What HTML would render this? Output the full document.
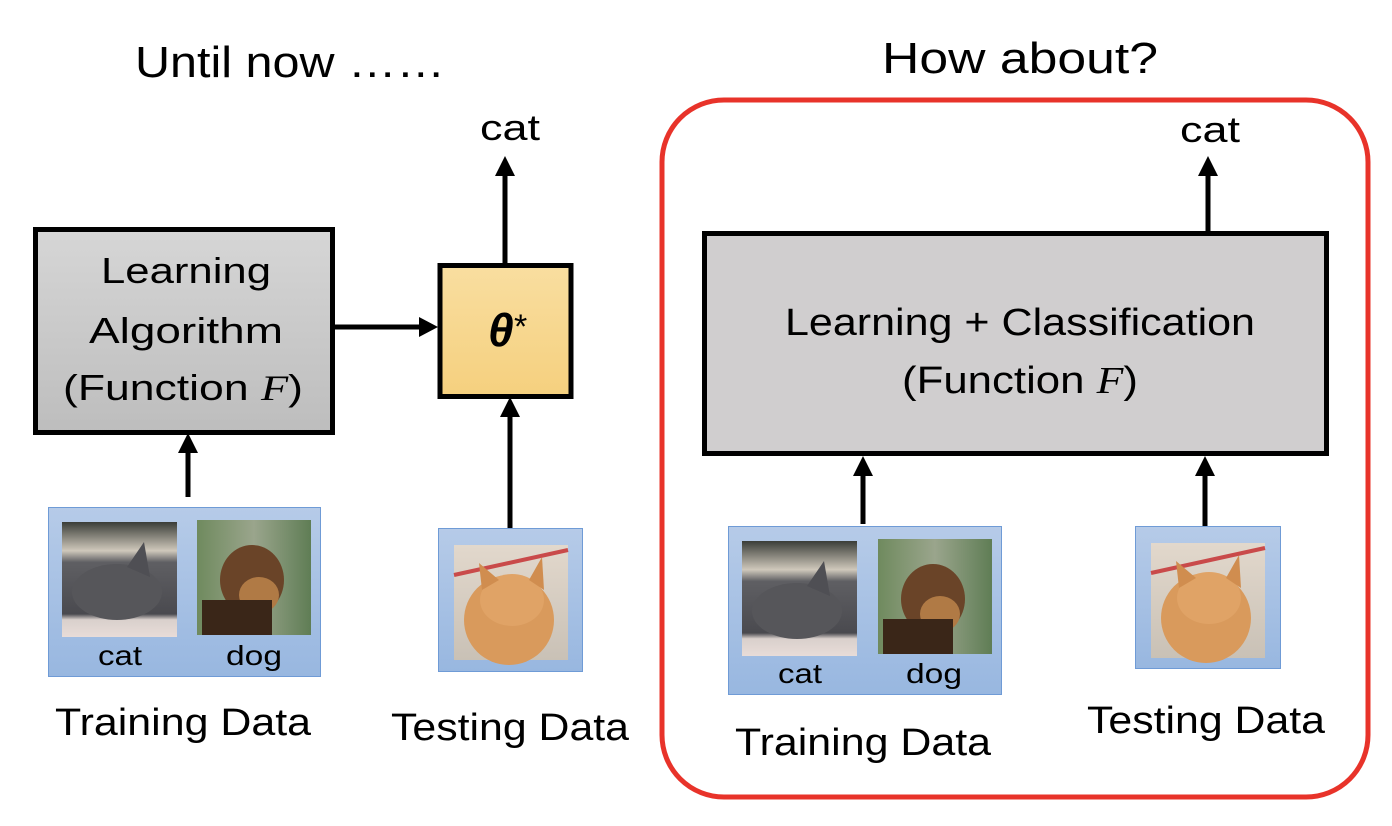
<!DOCTYPE html>
<html><head><meta charset="utf-8"><style>
html,body{margin:0;padding:0;background:#fff;}
svg{display:block;}
text{font-family:"Liberation Sans",sans-serif;fill:#000;}
</style></head><body>
<svg width="1392" height="826" viewBox="0 0 1392 826" xmlns="http://www.w3.org/2000/svg">
<defs>
<linearGradient id="gray" x1="0" y1="0" x2="0" y2="1"><stop offset="0" stop-color="#d6d6d6"/><stop offset="1" stop-color="#bdbdbd"/></linearGradient>
<linearGradient id="gold" x1="0" y1="0" x2="0" y2="1"><stop offset="0" stop-color="#f9dea0"/><stop offset="1" stop-color="#f5d07e"/></linearGradient>
<linearGradient id="blue" x1="0" y1="0" x2="0" y2="1"><stop offset="0" stop-color="#b6cbe8"/><stop offset="1" stop-color="#98b7e0"/></linearGradient>
<linearGradient id="catg" x1="0" y1="0" x2="0" y2="1"><stop offset="0" stop-color="#3a3d38"/><stop offset="0.25" stop-color="#cfc8bb"/><stop offset="0.35" stop-color="#5f5f63"/><stop offset="0.8" stop-color="#4a4a4f"/><stop offset="0.85" stop-color="#d9d0cc"/><stop offset="1" stop-color="#e8dcd8"/></linearGradient>
<linearGradient id="dogg" x1="0" y1="0" x2="1" y2="0"><stop offset="0" stop-color="#6f8a5e"/><stop offset="0.5" stop-color="#9aa58c"/><stop offset="1" stop-color="#5f7d55"/></linearGradient>
<linearGradient id="oc" x1="0" y1="0" x2="0" y2="1"><stop offset="0" stop-color="#e2d8cc"/><stop offset="1" stop-color="#c9c1b6"/></linearGradient>
<g id="catimg"><rect width="115" height="115" fill="url(#catg)"/><ellipse cx="55" cy="70" rx="45" ry="28" fill="#56565a"/><polygon points="65,45 82,20 88,55" fill="#4f4f54"/></g>
<g id="dogimg"><rect width="114" height="115" fill="url(#dogg)"/><ellipse cx="55" cy="60" rx="32" ry="35" fill="#6a4428"/><ellipse cx="62" cy="75" rx="20" ry="18" fill="#b07a45"/><rect x="5" y="80" width="70" height="35" fill="#3a2618"/></g>
<g id="ocat"><rect width="114" height="115" fill="url(#oc)"/><line x1="0" y1="30" x2="114" y2="5" stroke="#c94a4a" stroke-width="4"/><ellipse cx="55" cy="75" rx="45" ry="45" fill="#d99a5c"/><ellipse cx="58" cy="55" rx="32" ry="26" fill="#e0a366"/><polygon points="28,45 25,18 45,35" fill="#d08d4f"/><polygon points="75,35 88,12 90,45" fill="#d08d4f"/></g>
</defs>

<text x="290" y="77" font-size="44" text-anchor="middle" textLength="310" lengthAdjust="spacingAndGlyphs">Until now ……</text>
<text x="1020" y="73" font-size="44" text-anchor="middle" textLength="276" lengthAdjust="spacingAndGlyphs">How about?</text>

<rect x="35.5" y="229.5" width="297" height="203" fill="url(#gray)" stroke="#000" stroke-width="5"/>
<text x="186" y="283" font-size="36" text-anchor="middle" textLength="170" lengthAdjust="spacingAndGlyphs">Learning</text>
<text x="186" y="343" font-size="36" text-anchor="middle" textLength="194" lengthAdjust="spacingAndGlyphs">Algorithm</text>
<text x="183" y="400" font-size="36" text-anchor="middle" textLength="240" lengthAdjust="spacingAndGlyphs">(Function <tspan font-family="Liberation Serif" font-style="italic">F</tspan>)</text>

<rect x="440" y="265.5" width="131" height="131" fill="url(#gold)" stroke="#000" stroke-width="5"/>
<text x="488" y="346" font-size="46" font-family="Liberation Serif" font-weight="bold" font-style="italic">θ</text>
<text x="514" y="338" font-size="34">*</text>

<line x1="333" y1="327" x2="424" y2="327" stroke="#000" stroke-width="5"/>
<polygon points="438,327 419,317 419,337"/>
<line x1="188" y1="497" x2="188" y2="448" stroke="#000" stroke-width="5"/>
<polygon points="188,433 178,453 198,453"/>
<line x1="510" y1="528" x2="510" y2="412" stroke="#000" stroke-width="5"/>
<polygon points="510,397 500,417 520,417"/>
<line x1="505" y1="263" x2="505" y2="172" stroke="#000" stroke-width="5"/>
<polygon points="505,156 495,176 515,176"/>
<text x="510" y="140" font-size="36" text-anchor="middle" textLength="60" lengthAdjust="spacingAndGlyphs">cat</text>

<rect x="48.5" y="507.5" width="272" height="169" fill="url(#blue)" stroke="#6f9bd6" stroke-width="1"/>
<use href="#catimg" x="62" y="522"/>
<use href="#dogimg" x="197" y="520"/>
<text x="120" y="665" font-size="28" text-anchor="middle" textLength="44" lengthAdjust="spacingAndGlyphs">cat</text>
<text x="254" y="665" font-size="28" text-anchor="middle" textLength="56" lengthAdjust="spacingAndGlyphs">dog</text>
<text x="183" y="735" font-size="38" text-anchor="middle" textLength="256" lengthAdjust="spacingAndGlyphs">Training Data</text>

<rect x="438.5" y="528.5" width="144" height="143" fill="url(#blue)" stroke="#6f9bd6" stroke-width="1"/>
<use href="#ocat" x="454" y="545"/>
<text x="510" y="740" font-size="38" text-anchor="middle" textLength="238" lengthAdjust="spacingAndGlyphs">Testing Data</text>

<rect x="662" y="100" width="706" height="697" rx="62" ry="62" fill="none" stroke="#e8332a" stroke-width="5"/>
<rect x="704.5" y="233.5" width="622" height="220" fill="#d0cecf" stroke="#000" stroke-width="5"/>
<text x="1020" y="335" font-size="38" text-anchor="middle" textLength="470" lengthAdjust="spacingAndGlyphs">Learning + Classification</text>
<text x="1020" y="393" font-size="38" text-anchor="middle" textLength="236" lengthAdjust="spacingAndGlyphs">(Function <tspan font-family="Liberation Serif" font-style="italic">F</tspan>)</text>

<line x1="1208" y1="232" x2="1208" y2="172" stroke="#000" stroke-width="5"/>
<polygon points="1208,156 1198,176 1218,176"/>
<text x="1210" y="142" font-size="36" text-anchor="middle" textLength="60" lengthAdjust="spacingAndGlyphs">cat</text>
<line x1="863" y1="524" x2="863" y2="472" stroke="#000" stroke-width="5"/>
<polygon points="863,456 853,476 873,476"/>
<line x1="1205" y1="526" x2="1205" y2="472" stroke="#000" stroke-width="5"/>
<polygon points="1205,456 1195,476 1215,476"/>

<rect x="728.5" y="526.5" width="273" height="168" fill="url(#blue)" stroke="#6f9bd6" stroke-width="1"/>
<use href="#catimg" x="742" y="541"/>
<use href="#dogimg" x="878" y="539"/>
<text x="800" y="683" font-size="28" text-anchor="middle" textLength="44" lengthAdjust="spacingAndGlyphs">cat</text>
<text x="934" y="683" font-size="28" text-anchor="middle" textLength="56" lengthAdjust="spacingAndGlyphs">dog</text>
<text x="863" y="755" font-size="38" text-anchor="middle" textLength="256" lengthAdjust="spacingAndGlyphs">Training Data</text>

<rect x="1135.5" y="526.5" width="145" height="142" fill="url(#blue)" stroke="#6f9bd6" stroke-width="1"/>
<use href="#ocat" x="1151" y="543"/>
<text x="1206" y="733" font-size="38" text-anchor="middle" textLength="238" lengthAdjust="spacingAndGlyphs">Testing Data</text>
</svg>
</body></html>
